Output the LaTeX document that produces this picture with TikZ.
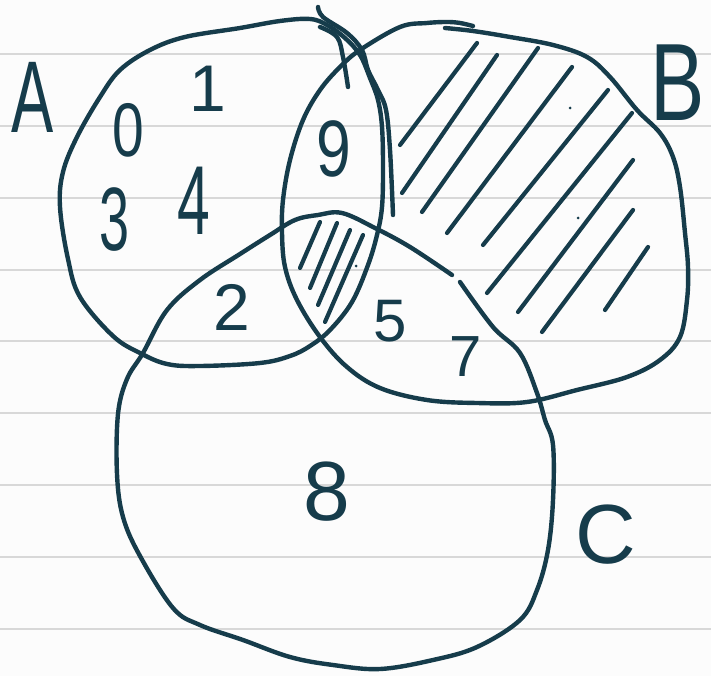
\documentclass[tikz,border=0pt]{standalone}
\usepackage{fontspec}
\setmainfont{Liberation Sans}
\definecolor{ink}{RGB}{22,60,75}
\definecolor{rulegray}{RGB}{216,216,216}
\definecolor{paper}{RGB}{252,252,252}
\newcommand{\narrow}[2]{\scalebox{#1}[1]{#2}}
\begin{document}
\begin{tikzpicture}[x=1pt,y=-1pt,
  pen/.style={draw=ink, line width=4.4pt, line cap=round, line join=round},
  hatchline/.style={draw=ink, line width=4.2pt, line cap=round},
  ruled/.style={draw=rulegray, line width=2.5pt},
  lbl/.style={text=ink, inner sep=0pt, font=\fontsize{#1}{#1}\selectfont},
]
\fill[paper] (0,0) rectangle (711,676);
\useasboundingbox (0,0) rectangle (711,676);
\foreach \yy in {54,126,198,270,341,413,485,557,629} \draw[ruled] (0,\yy) -- (711,\yy);

% set A
\draw[pen] plot[smooth cycle, tension=0.6] coordinates {
 (240,28) (280,21) (310,19) (327,25) (345,38) (360,55) (370,78) (378,100)
 (382,127) (383,167) (382,207) (377,235) (368,265) (352,302) (330,330)
 (310,346) (290,356) (260,363) (200,366) (167,364) (140,353) (113,336)
 (80,297) (68,259) (60,207) (63,172) (77,137) (100,97) (120,70) (150,50) (185,37)};
% extra strokes near the top of A
\draw[pen] plot[smooth, tension=0.6] coordinates {
 (318,7) (323,17) (347,33) (362,50) (368,70) (378,90) (386,110) (390,150) (393,215)};
\draw[pen] plot[smooth, tension=0.6] coordinates {(320,27) (337,37) (343,57) (348,87)};

% set B
\draw[pen] plot[smooth, tension=0.6] coordinates {
 (445,28) (473,31) (510,37) (553,45) (587,57) (610,77) (637,110) (660,133)
 (673,157) (680,187) (685,233) (688,267) (687,300) (680,337) (660,360)
 (627,377) (577,390) (527,402) (477,403) (427,400) (380,388) (347,367)
 (320,337) (297,300) (285,267) (282,233) (283,200) (290,160) (303,120)
 (320,90) (340,67) (360,50) (400,27) (427,23) (447,22) (460,23) (473,26)};

% set C
\draw[pen] plot[smooth, tension=0.6] coordinates {
 (460,282) (493,327) (520,353) (537,393) (545,420) (553,445) (553,500)
 (548,550) (537,590) (520,620) (477,647) (433,660) (380,669) (333,665)
 (290,657) (243,640) (200,625) (173,608) (140,556) (123,517) (117,474)
 (118,414) (127,379) (143,353) (167,310) (200,280) (240,254) (270,235)
 (295,220) (318,215) (342,213) (375,228) (410,247) (452,275)};

% hatching of B only
\foreach \ax/\ay/\bx/\by in {400/145/477/43, 402/193/497/55, 422/212/538/48,
  447/233/572/67, 483/245/608/90, 487/293/632/113, 518/312/633/160,
  542/332/633/210, 605/310/648/247}
  \draw[hatchline] (\ax,\ay) -- (\bx,\by);
% hatching of A, B and C
\foreach \ax/\ay/\bx/\by in {300/268/320/222, 310/288/337/223,
  318/305/350/230, 325/322/363/235}
  \draw[hatchline] (\ax,\ay) -- (\bx,\by);
\fill[ink] (570,108) circle (1.5) (578,218) circle (1.5) (356,266) circle (1.5);

% labels
\node[lbl=102] (labA) at (33,97) {\narrow{0.62}{A}};
\node[lbl=110] (labB) at (678,83) {\narrow{0.74}{B}};
\node[lbl=84] (labC) at (606,535) {C};
\node[lbl=76] (n0) at (128,130) {\narrow{0.75}{0}};
\node[lbl=66] (n1) at (208,89) {1};
\node[lbl=90] (n3) at (115,220) {\narrow{0.6}{3}};
\node[lbl=98] (n4) at (194,201) {\narrow{0.6}{4}};
\node[lbl=66] (n2) at (232,307) {2};
\node[lbl=80] (n9) at (334,149) {\narrow{0.78}{9}};
\node[lbl=60] (n5) at (390,321) {5};
\node[lbl=58] (n7) at (466,357) {7};
\node[lbl=84] (n8) at (327,492) {8};
\end{tikzpicture}
\end{document}
